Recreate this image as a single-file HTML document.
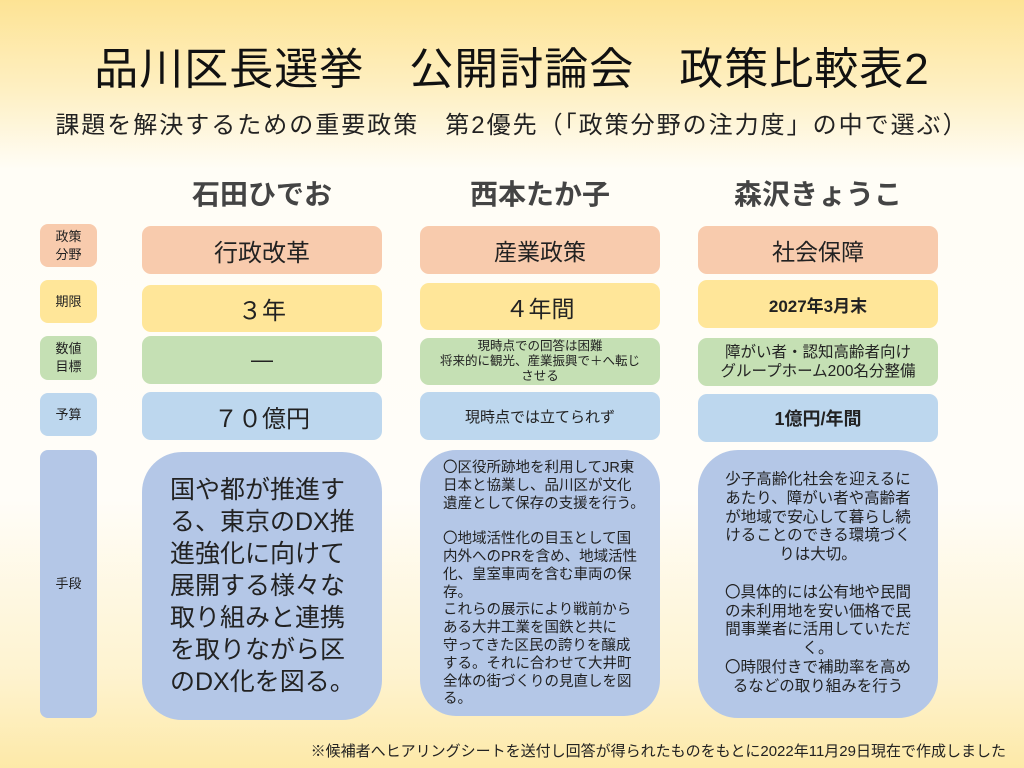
<!DOCTYPE html>
<html><head><meta charset="utf-8"><style>
*{margin:0;padding:0;box-sizing:border-box}
body{width:1024px;height:768px;overflow:hidden;position:relative;font-family:"Liberation Sans","Noto Sans CJK JP",sans-serif;color:#222;
background:linear-gradient(to bottom,#fde394 0%,#fef0c4 12%,#fffdf6 22%,#fffdf8 65%,#fef3cf 88%,#fde9a8 100%);}
.a{position:absolute;display:flex;align-items:center;justify-content:center;text-align:center}
.l{border-radius:8px;font-size:13px;line-height:18px;left:40px;width:57px}
.c{border-radius:9px}
.s{background:#f8cbad}.y{background:#ffe699}.g{background:#c5e0b4}.b{background:#bdd7ee}.m{background:#b4c7e7}
.t{position:absolute;white-space:nowrap}
</style></head><body>
<div class="a" style="left:0;top:38px;width:1024px;height:54px;font-size:44px;letter-spacing:1px;color:#111">品川区長選挙　公開討論会　政策比較表2</div>
<div class="a" style="left:20px;top:106px;width:984px;height:32px;font-size:24px;letter-spacing:2px;color:#222">課題を解決するための重要政策　第2優先（「政策分野の注力度」の中で選ぶ）</div>
<div class="a" style="left:142px;top:175px;width:240px;height:36px;font-size:28px;font-weight:bold;color:#444">石田ひでお</div>
<div class="a" style="left:420px;top:175px;width:240px;height:36px;font-size:28px;font-weight:bold;color:#444">西本たか子</div>
<div class="a" style="left:698px;top:175px;width:240px;height:36px;font-size:28px;font-weight:bold;color:#444">森沢きょうこ</div>

<div class="a l s" style="top:224px;height:43px">政策<br>分野</div>
<div class="a l y" style="top:280px;height:43px">期限</div>
<div class="a l g" style="top:336px;height:44px">数値<br>目標</div>
<div class="a l b" style="top:393px;height:43px">予算</div>
<div class="a l m" style="top:450px;height:268px">手段</div>

<div class="a c s" style="left:142px;top:226px;width:240px;height:48px;font-size:24px">行政改革</div>
<div class="a c y" style="left:142px;top:285px;width:240px;height:47px;font-size:24px">３年</div>
<div class="a c g" style="left:142px;top:336px;width:240px;height:48px;font-size:22px">―</div>
<div class="a c b" style="left:142px;top:392px;width:240px;height:48px;font-size:24px">７０億円</div>
<div class="a m" style="left:142px;top:452px;width:240px;height:268px;border-radius:40px;font-size:25px;line-height:32px;padding:0 22px 0 28px;text-align:left">国や都が推進する、東京のDX推進強化に向けて展開する様々な取り組みと連携を取りながら区のDX化を図る。</div>

<div class="a c s" style="left:420px;top:226px;width:240px;height:48px;font-size:23px">産業政策</div>
<div class="a c y" style="left:420px;top:283px;width:240px;height:47px;font-size:23px">４年間</div>
<div class="a c g" style="left:420px;top:338px;width:240px;height:47px;font-size:12.5px;line-height:15px;padding:0 16px">現時点での回答は困難<br>将来的に観光、産業振興で＋へ転じ<br>させる</div>
<div class="a c b" style="left:420px;top:392px;width:240px;height:48px;font-size:15px">現時点では立てられず</div>
<div class="m" style="position:absolute;left:420px;top:450px;width:240px;height:266px;border-radius:36px"></div>
<div class="t" style="left:443px;top:460px;font-size:14.5px;line-height:17.8px;text-align:left">〇区役所跡地を利用してJR東<br>日本と協業し、品川区が文化<br>遺産として保存の支援を行う。<br><br>〇地域活性化の目玉として国<br>内外へのPRを含め、地域活性<br>化、皇室車両を含む車両の保<br>存。<br>これらの展示により戦前から<br>ある大井工業を国鉄と共に<br>守ってきた区民の誇りを醸成<br>する。それに合わせて大井町<br>全体の街づくりの見直しを図<br>る。</div>

<div class="a c s" style="left:698px;top:226px;width:240px;height:48px;font-size:23px">社会保障</div>
<div class="a c y" style="left:698px;top:280px;width:240px;height:48px;font-size:17px;font-weight:bold">2027年3月末</div>
<div class="a c g" style="left:698px;top:338px;width:240px;height:48px;font-size:15.5px;line-height:19px">障がい者・認知高齢者向け<br>グループホーム200名分整備</div>
<div class="a c b" style="left:698px;top:394px;width:240px;height:48px;font-size:18px;font-weight:bold">1億円/年間</div>
<div class="m" style="position:absolute;left:698px;top:450px;width:240px;height:268px;border-radius:40px"></div>
<div class="t" style="left:698px;width:240px;top:471px;font-size:15.5px;line-height:18.8px;text-align:center">少子高齢化社会を迎えるに<br>あたり、障がい者や高齢者<br>が地域で安心して暮らし続<br>けることのできる環境づく<br>りは大切。<br><br>〇具体的には公有地や民間<br>の未利用地を安い価格で民<br>間事業者に活用していただ<br>く。<br>〇時限付きで補助率を高め<br>るなどの取り組みを行う</div>

<div class="a" style="left:200px;top:738px;width:806px;height:24px;font-size:15px;justify-content:flex-end;color:#222">※候補者へヒアリングシートを送付し回答が得られたものをもとに2022年11月29日現在で作成しました</div>
</body></html>
